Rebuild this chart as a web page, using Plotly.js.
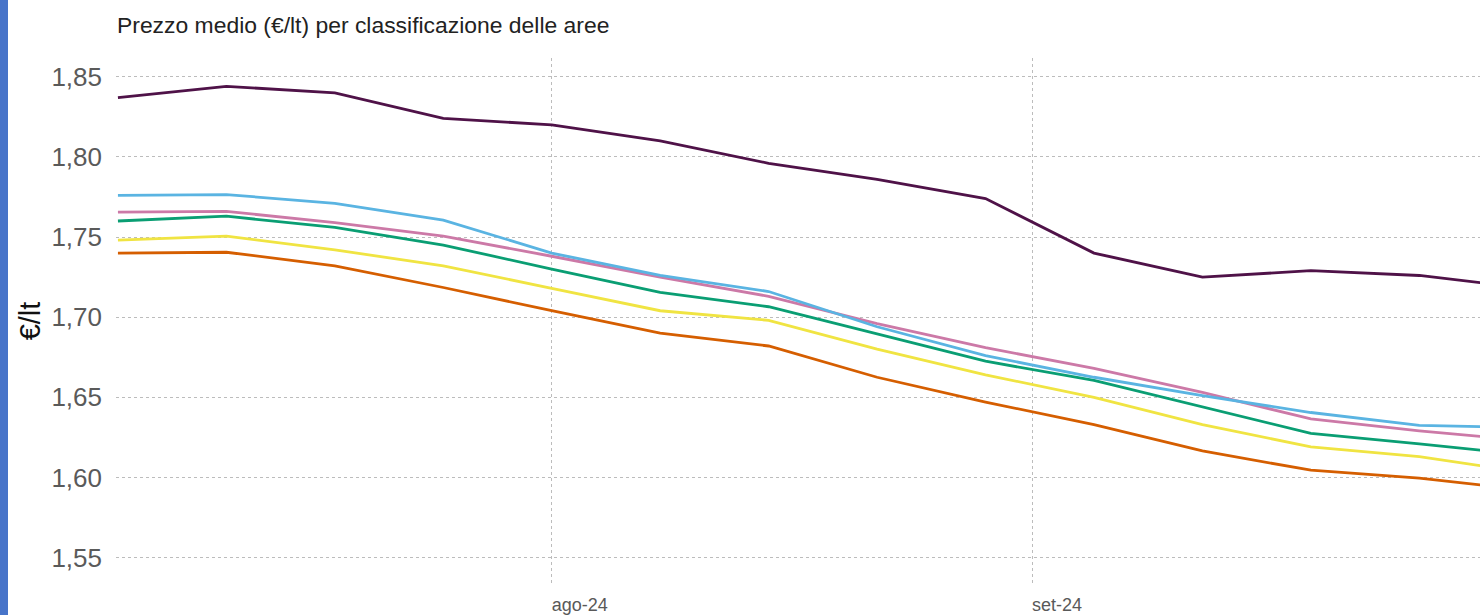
<!DOCTYPE html>
<html>
<head>
<meta charset="utf-8">
<script src="https://cdn.plot.ly/plotly-3.0.1.min.js"></script>
<style>
  html, body { margin: 0; padding: 0; background: #ffffff; }
  #chart { width: 1480px; height: 615px; }
  #strip { position: absolute; left: 0; top: 0; width: 8px; height: 615px; background: #4774c9; }
</style>
</head>
<body>
<div id="chart"></div>
<div id="strip"></div>
<script>
const dates = ['2024-07-04','2024-07-11','2024-07-18','2024-07-25','2024-08-01','2024-08-08','2024-08-15','2024-08-22','2024-08-29','2024-09-05','2024-09-12','2024-09-19','2024-09-26','2024-10-03'];

const seriesNames = ['Area 1','Area 2','Area 3','Area 4','Area 5','Area 6'];

const areaPurple = [1.837, 1.844, 1.840, 1.824, 1.820, 1.810, 1.796, 1.786, 1.774, 1.740, 1.725, 1.729, 1.726, 1.718];
const areaBlue   = [1.776, 1.7765, 1.771, 1.7605, 1.740, 1.726, 1.716, 1.694, 1.676, 1.6625, 1.651, 1.6405, 1.6325, 1.631];
const areaPink   = [1.7655, 1.766, 1.759, 1.7505, 1.738, 1.725, 1.713, 1.696, 1.681, 1.668, 1.653, 1.6365, 1.629, 1.623];
const areaGreen  = [1.760, 1.763, 1.756, 1.745, 1.730, 1.7155, 1.7065, 1.6895, 1.6725, 1.6605, 1.644, 1.6275, 1.621, 1.614];
const areaYellow = [1.748, 1.7505, 1.742, 1.732, 1.718, 1.704, 1.698, 1.680, 1.664, 1.650, 1.633, 1.619, 1.613, 1.603];
const areaOrange = [1.740, 1.7405, 1.732, 1.7185, 1.704, 1.690, 1.682, 1.6625, 1.647, 1.633, 1.6165, 1.6045, 1.5995, 1.592];

const yTickVals = [1.55, 1.60, 1.65, 1.70, 1.75, 1.80, 1.85];
const xTickVals = ['2024-08-01', '2024-09-01'];
const xTickText = ['ago-24', 'set-24'];

const allSeries = [areaPurple, areaBlue, areaPink, areaGreen, areaYellow, areaOrange];
const colors = ['#4f1248', '#5ab4e2', '#cc79a7', '#0a9e73', '#f0e442', '#d55e00'];

const traces = allSeries.map((vals, i) => ({
  type: 'scatter',
  mode: 'lines',
  name: seriesNames[i],
  x: dates,
  y: vals,
  line: { color: colors[i], width: 2.8 },
  hoverinfo: 'x+y+name'
})).reverse();

const layout = {
  width: 1480,
  height: 615,
  margin: { l: 116, r: 0, t: 58, b: 31 },
  paper_bgcolor: '#ffffff',
  plot_bgcolor: '#ffffff',
  showlegend: false,
  separators: ',.',
  font: { family: '"Liberation Sans", Arial, sans-serif', color: '#555555' },
  title: {
    text: 'Prezzo medio (€/lt) per classificazione delle aree',
    x: 117 / 1480,
    xref: 'container',
    xanchor: 'left',
    y: 1 - 25 / 615,
    yref: 'container',
    yanchor: 'middle',
    font: { size: 22.9, color: '#222222', family: '"Liberation Sans", Arial, sans-serif' }
  },
  xaxis: {
    type: 'date',
    range: ['2024-07-03 21:00', '2024-09-29 22:00'],
    tickvals: xTickVals,
    ticktext: xTickText,
    ticklabelposition: 'outside right',
    ticklabelstandoff: 8,
    ticks: '',
    showgrid: true,
    gridcolor: '#bcbcbc',
    griddash: 'dot',
    gridwidth: 1,
    zeroline: false,
    showline: false,
    tickfont: { size: 18, color: '#595959' },
    fixedrange: true
  },
  yaxis: {
    range: [1.5335, 1.8617],
    tickvals: yTickVals,
    tickformat: '.2f',
    ticks: '',
    ticklabelstandoff: 13,
    showgrid: true,
    gridcolor: '#bcbcbc',
    griddash: 'dot',
    gridwidth: 1,
    zeroline: false,
    showline: false,
    tickfont: { size: 26, color: '#5a5a5a' },
    title: {
      text: '€/lt',
      font: { size: 29, color: '#111111' },
      standoff: 2
    },
    fixedrange: true
  }
};

Plotly.newPlot('chart', traces, layout, { displayModeBar: false, staticPlot: true });
</script>
</body>
</html>
